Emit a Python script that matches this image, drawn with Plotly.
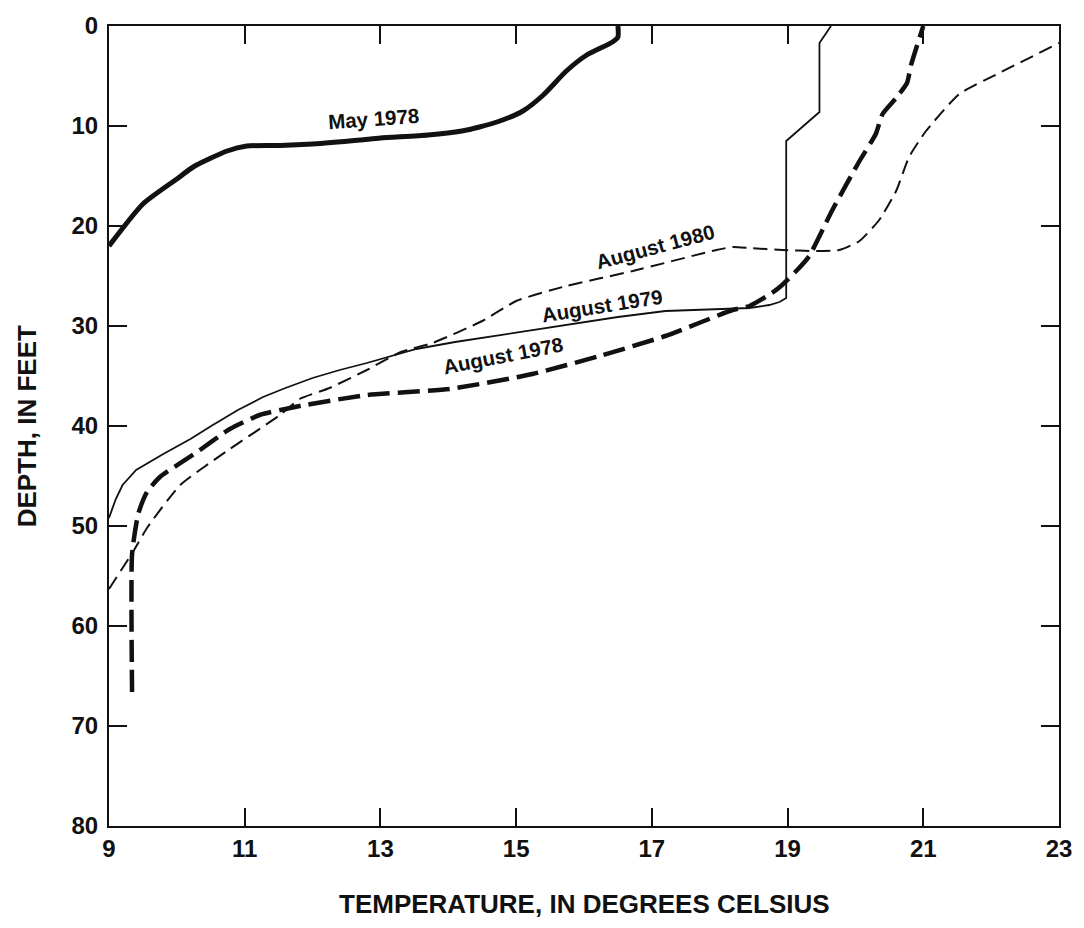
import plotly.graph_objects as go

# ---- data (temperature in deg C, depth in feet) ----
may78_temp = [9.0, 9.5, 10.0, 10.24, 10.74, 11.03, 11.52, 12.0, 12.7, 13.0, 13.7, 14.2, 14.46,
              14.76, 15.1, 15.4, 15.74, 16.04, 16.42, 16.5, 16.5]
may78_depth = [22.0, 17.8, 15.3, 14.1, 12.5, 12.0, 11.95, 11.8, 11.4, 11.2, 10.9, 10.5, 10.1,
               9.5, 8.5, 6.9, 4.5, 2.9, 1.6, 1.1, 0.0]

aug79_temp = [9.0, 9.1, 9.2, 9.4, 9.8, 10.2, 10.53, 10.9, 11.27, 11.6, 12.0, 12.4, 12.8, 13.2,
              13.53, 14.1, 14.76, 15.25, 15.74, 16.5, 17.2, 17.95, 18.44, 18.73, 18.88, 18.98,
              18.98, 19.47, 19.47, 19.64]
aug79_depth = [49.2, 47.3, 45.9, 44.4, 42.8, 41.3, 39.9, 38.4, 37.1, 36.2, 35.2, 34.4, 33.7, 32.9,
               32.3, 31.6, 30.9, 30.4, 29.9, 29.1, 28.5, 28.3, 28.2, 27.9, 27.6, 27.2,
               11.5, 8.6, 1.7, 0.0]

aug78_temp = [9.34, 9.34, 9.43, 9.56, 9.75, 10.3, 10.78, 11.22, 11.81, 12.8, 14.02, 15.24, 16.23,
              17.2, 18.19, 18.44, 18.77, 18.92, 19.17, 19.32, 19.66, 20.06, 20.3, 20.4, 20.6,
              20.76, 20.82, 21.0]
aug78_depth = [66.6, 52.8, 48.8, 46.6, 45.1, 42.6, 40.3, 38.9, 38.0, 36.9, 36.3, 34.8, 33.0,
               31.0, 28.4, 28.0, 26.7, 25.9, 24.2, 23.0, 18.4, 13.5, 10.8, 8.8, 7.2,
               5.7, 3.9, 0.0]

aug80_temp = [9.0, 9.36, 9.56, 10.05, 10.78, 11.52, 11.81, 12.25, 12.8, 13.3, 13.77, 14.5, 15.0,
              15.74, 16.72, 17.95, 18.19, 18.44, 18.92, 19.42, 19.76, 20.06, 20.35, 20.6,
              20.79, 21.04, 21.53, 22.12, 23.0]
aug80_depth = [56.3, 52.5, 50.2, 45.9, 42.3, 38.9, 37.3, 36.2, 34.4, 32.6, 31.7, 29.5, 27.5,
               26.0, 24.5, 22.4, 22.1, 22.2, 22.4, 22.5, 22.4, 21.5, 19.4, 16.5,
               13.1, 10.5, 6.8, 4.7, 1.7]

x_ticks = [9, 11, 13, 15, 17, 19, 21, 23]
y_ticks = [0, 10, 20, 30, 40, 50, 60, 70, 80]

labels = ["May 1978", "August 1980", "August 1979", "August 1978"]
label_temp = [12.9, 17.05, 16.27, 14.8]
label_depth = [9.2, 22.0, 27.9, 32.9]
label_angle = [-4, -15, -9, -11]

FONT = "Liberation Sans, Arial, Helvetica, sans-serif"
INK = "#111111"

fig = go.Figure()
fig.add_trace(go.Scatter(x=may78_temp, y=may78_depth, mode="lines",
                         line=dict(color=INK, width=5, shape="spline", smoothing=0.6)))
fig.add_trace(go.Scatter(x=aug79_temp, y=aug79_depth, mode="lines",
                         line=dict(color=INK, width=1.8)))
fig.add_trace(go.Scatter(x=aug78_temp, y=aug78_depth, mode="lines",
                         line=dict(color=INK, width=4.5, dash="22px,8px", shape="spline", smoothing=0.5)))
fig.add_trace(go.Scatter(x=aug80_temp, y=aug80_depth, mode="lines",
                         line=dict(color=INK, width=2, dash="14px,7px", shape="spline", smoothing=0.5)))

for t, tx, ty, a in zip(labels, label_temp, label_depth, label_angle):
    fig.add_annotation(x=tx, y=ty, text=t, showarrow=False, textangle=a,
                       font=dict(family=FONT, size=20.5, color=INK, weight="bold"))

fig.add_annotation(xref="paper", yref="paper", x=0.5, y=-0.098, text="TEMPERATURE, IN DEGREES CELSIUS",
                   showarrow=False, xanchor="center", yanchor="middle",
                   font=dict(family=FONT, size=26, color=INK, weight="bold"))
fig.add_annotation(xref="paper", yref="paper", x=-0.086, y=0.5, text="DEPTH, IN FEET",
                   showarrow=False, textangle=-90, xanchor="center", yanchor="middle",
                   font=dict(family=FONT, size=26, color=INK, weight="bold"))

axis_common = dict(showline=True, linewidth=2, linecolor=INK, mirror="ticks",
                   ticks="inside", ticklen=18, tickwidth=2, tickcolor=INK,
                   showgrid=False, zeroline=False,
                   tickfont=dict(family=FONT, size=24, color=INK, weight="bold"))

fig.update_xaxes(range=[9, 23], tickvals=x_ticks, ticktext=[str(v) for v in x_ticks],
                 ticklabelstandoff=0, **axis_common)
fig.update_yaxes(range=[80, 0], tickvals=y_ticks, ticktext=[str(v) for v in y_ticks],
                 ticklabelstandoff=4, **axis_common)

fig.update_layout(width=1084, height=928, showlegend=False,
                  plot_bgcolor="white", paper_bgcolor="white",
                  margin=dict(l=109, r=24, t=21, b=102))

fig.write_html("out.html")
